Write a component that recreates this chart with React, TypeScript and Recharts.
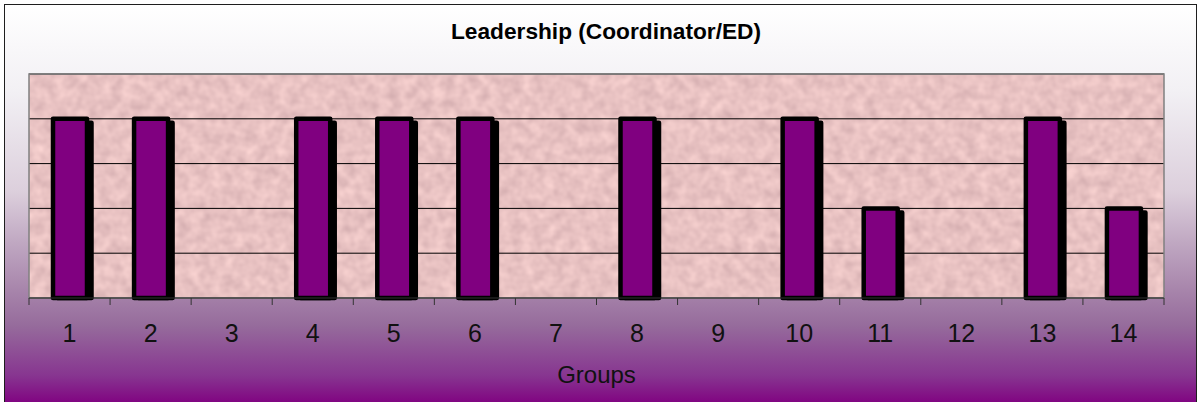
import React from "react";
import { BarChart, Bar, XAxis, YAxis, CartesianGrid, ReferenceArea, Label } from "recharts";

const groups: string[] = ["1", "2", "3", "4", "5", "6", "7", "8", "9", "10", "11", "12", "13", "14"];
const leadership: number[] = [4, 4, 0, 4, 4, 4, 0, 4, 0, 4, 2, 0, 4, 2];
const yTicks: number[] = [0, 1, 2, 3, 4, 5];
const title = "Leadership (Coordinator/ED)";
const xTitle = "Groups";

const data = groups.map((g, i) => ({ group: g, value: leadership[i] }));

const FONT = "'Liberation Sans', Arial, Helvetica, sans-serif";
const W = 1198;
const H = 402;

const BarShape = (props: any) => {
  const { x, y, width, height } = props;
  if (!height || height <= 0) return null;
  const sx = 4.5;
  const sy = 4;
  return (
    <g>
      <rect
        x={x + sx}
        y={y + sy}
        width={width}
        height={Math.max(0, height - sy)}
        fill="#000"
        stroke="#000"
        strokeWidth={4.5}
        strokeLinejoin="round"
      />
      <rect
        x={x}
        y={y}
        width={width}
        height={height}
        fill="#800080"
        stroke="#000"
        strokeWidth={4.5}
        strokeLinejoin="round"
      />
    </g>
  );
};

const Tick = (props: any) => {
  const { x, y, payload, index, width, visibleTicksCount } = props;
  const count = visibleTicksCount || groups.length;
  const band = (width || 1135) / count;
  const left = x - band / 2;
  return (
    <g>
      <line x1={left} y1={y} x2={left} y2={y + 7} stroke="#333" strokeWidth={1} />
      {index === count - 1 ? (
        <line x1={x + band / 2} y1={y} x2={x + band / 2} y2={y + 7} stroke="#333" strokeWidth={1} />
      ) : null}
      <text x={x} y={y + 44} textAnchor="middle" fontSize={25} fontFamily={FONT} fill="#111">
        {payload.value}
      </text>
    </g>
  );
};

export default function App() {
  return (
    <div style={{ position: "absolute", left: 0, top: 0, width: W, height: H, overflow: "hidden" }}>
      <svg width={W} height={H} style={{ position: "absolute", left: 0, top: 0 }}>
        <defs>
          <filter
            id="pinkNoise"
            x="0"
            y="0"
            width={W}
            height={H}
            filterUnits="userSpaceOnUse"
            colorInterpolationFilters="sRGB"
          >
            <feTurbulence type="fractalNoise" baseFrequency="0.09" numOctaves={2} seed={7} result="n" />
            <feColorMatrix
              in="n"
              type="matrix"
              values="0.18 0 0 0 0.82  0.18 0 0 0 0.67  0.16 0 0 0 0.68  0 0 0 0 1"
            />
          </filter>
          <pattern id="pinkTex" patternUnits="userSpaceOnUse" x="0" y="0" width={W} height={H}>
            <rect x="0" y="0" width={W} height={H} fill="#e9c2c2" filter="url(#pinkNoise)" />
          </pattern>
        </defs>
      </svg>
      <div
        style={{
          position: "absolute",
          left: 4,
          top: 4,
          width: 1193,
          height: 402,
          boxSizing: "border-box",
          border: "1.5px solid #1e1e1e",
          background:
            "linear-gradient(to bottom, #ffffff 0%, #f2f0f4 21.6%, #dccfdc 46.7%, #c0a8c2 59.3%, #a683aa 71.9%, #966c9c 80%, #873590 92.7%, #800080 100%)",
        }}
      />
      <div style={{ position: "absolute", left: 0, top: 0 }}>
        <BarChart width={W} height={H} data={data} margin={{ top: 74, right: 34, left: 29, bottom: 0 }}>
          <CartesianGrid
            vertical={false}
            stroke="#000"
            strokeWidth={1}
            fill="url(#pinkTex)"
            fillOpacity={1}
          />
          <YAxis hide domain={[0, 5]} ticks={yTicks} type="number" />
          <XAxis
            dataKey="group"
            height={104}
            tickLine={false}
            tickSize={0}
            tickMargin={0}
            axisLine={{ stroke: "#333", strokeWidth: 1 }}
            tick={<Tick />}
            interval={0}
          >
            <Label
              content={(p: any) => {
                const vb = p.viewBox || { x: 29, y: 298, width: 1135 };
                return (
                  <text
                    x={vb.x + vb.width / 2}
                    y={vb.y + 85}
                    textAnchor="middle"
                    fontSize={24}
                    fontFamily={FONT}
                    fill="#111"
                  >
                    {xTitle}
                  </text>
                );
              }}
            />
          </XAxis>
          <ReferenceArea y1={0} y2={5} fill="none" stroke="#808080" strokeWidth={1.5} ifOverflow="visible" />
          <Bar dataKey="value" barSize={34} fill="#800080" shape={<BarShape />} isAnimationActive={false} />
        </BarChart>
      </div>
      <svg width={W} height={60} style={{ position: "absolute", left: 0, top: 0, pointerEvents: "none" }}>
        <text
          x={606}
          y={39}
          textAnchor="middle"
          fontSize={22}
          fontWeight="bold"
          fontFamily={FONT}
          fill="#000"
          textLength={310}
          lengthAdjust="spacingAndGlyphs"
        >
          {title}
        </text>
      </svg>
    </div>
  );
}
